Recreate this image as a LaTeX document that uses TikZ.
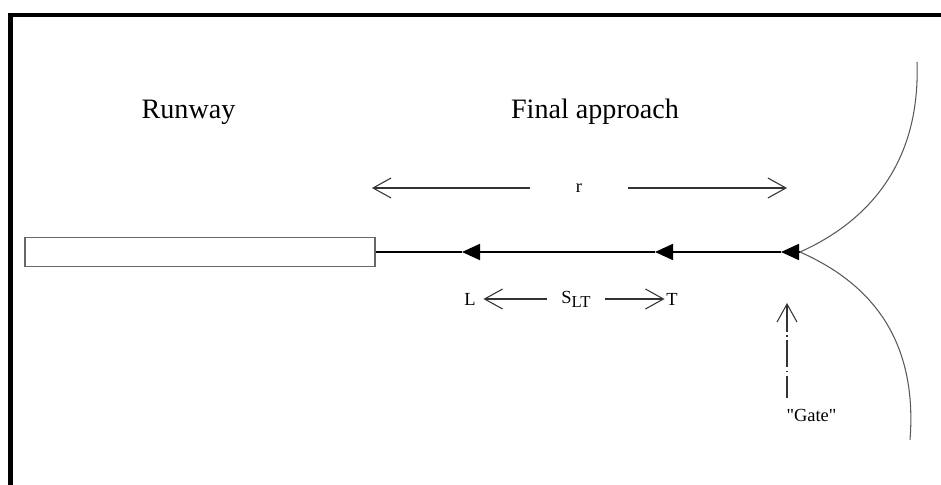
\documentclass[tikz,border=0pt]{standalone}
\usepackage{fontspec}
\setmainfont{Liberation Serif}[Ligatures=TeXOff]
\usetikzlibrary{arrows.meta}
\newcommand{\planetip}{Triangle[length=3.6mm,width=3.2mm]}
\newcommand{\bartip}{Straight Barb[length=3.6mm,width=4mm]}

\begin{document}
\begin{tikzpicture}[
    every node/.style={font=\fontsize{10.5}{12}\selectfont},
    bigtext/.style={font=\fontsize{16}{19}\selectfont, anchor=base},
    plane/.style={-{\planetip}, line width=1pt},
    span/.style={-{\bartip}, line width=.6pt, black!80},
    approachcurve/.style={line width=.6pt, black!65}
  ]
      \useasboundingbox (0,0) rectangle (18.82,9.70);
      % frame
        \draw[line width=2.4pt] (0.21,-0.3) -- (0.21,9.40) -- (19.2,9.40);

      % runway and titles
        \node (runway) at (4.00,4.66)  [draw=black!60, line width=.8pt, minimum width=7cm, minimum height=.58cm, inner sep=0] {};
        \node (runwaylbl) at (3.77,7.33)  [bigtext] {Runway};
        \node (approachlbl) at (11.90,7.33)  [bigtext] {Final approach};

      % aircraft on the final approach
        \coordinate (lead) at (9.24,4.66);
        \coordinate (trail) at (13.10,4.66);
        \coordinate (third) at (15.62,4.66);
        \coordinate (gate) at (16.00,4.66);
        \coordinate (arctop) at (18.34,8.46);
        \coordinate (arcbot) at (18.20,0.90);

        \draw[line width=1pt] (runway) -- (lead);
        \draw[plane] (trail) -- (lead);
        \draw[plane] (third) -- (trail);
        \draw[plane] (gate) -- (third);
        \draw[approachcurve] (gate) .. controls (17.1,5.15) and (18.42,6.2) .. (arctop);
        \draw[approachcurve] (gate) .. controls (17.1,4.17) and (18.38,3.2) .. (arcbot);

      % range r
        \node (r) at (11.58,5.94)  [minimum width=1.96cm, inner sep=0] {r};
        \coordinate (rleft) at (7.44,5.94);
        \coordinate (rright) at (15.74,5.94);
        \draw[span] (r) -- (rleft);
        \draw[span] (r) -- (rright);

      % spacing L-T
        \node (L) at (9.40,3.72)  [inner sep=1.5mm] {L};
        \node (T) at (13.44,3.72)  [inner sep=.3mm] {T};
        \node (slt) at (11.52,3.72)  [minimum width=1.16cm, inner sep=0] {S\raisebox{-.45ex}{\fontsize{9.5}{11}\selectfont LT}};
        \draw[span] (slt) -- (L);
        \draw[span] (slt) -- (T);

      % gate
        \coordinate (gatetip) at (15.74,3.64);
        \coordinate (gatefoot) at (15.74,1.74);
        \node (gatelbl) at (16.23,1.40) {"Gate"};
        \draw[{\bartip}-, line width=.6pt, black!80, dash pattern=on 5.4mm off .7mm on .3mm off .7mm] (gatetip) -- (gatefoot);
    \end{tikzpicture}
\end{document}
